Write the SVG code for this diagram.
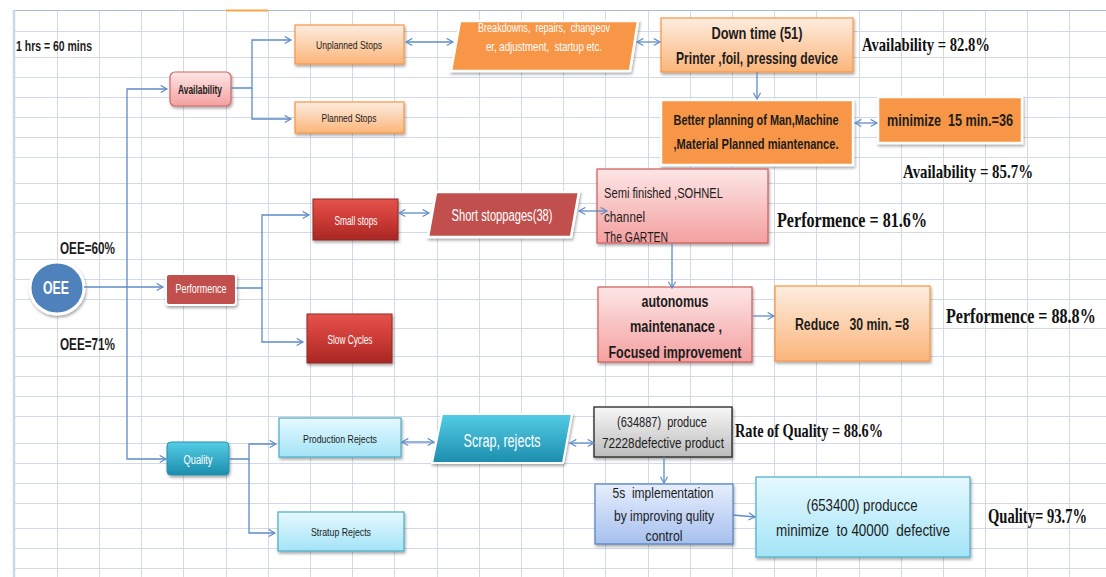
<svg xmlns="http://www.w3.org/2000/svg" width="1106" height="577" viewBox="0 0 1106 577">
<defs>
<style>
.grid{stroke:#d3dae7;stroke-width:1;fill:none}
.con{stroke:#5f8cc8;stroke-width:1.3;fill:none}
.one{marker-end:url(#arr)}
.two{marker-start:url(#arr);marker-end:url(#arr)}
.t{font-family:"Liberation Sans Narrow","Liberation Sans",Arial,sans-serif;fill:#1c1c1c;text-anchor:middle;white-space:pre}
.b{font-weight:bold}
.w{fill:#ffffff}
.l{text-anchor:start}
.s{font-family:"Liberation Serif","Times New Roman",serif;font-weight:bold;fill:#111;text-anchor:start}
.sh{filter:url(#shadow)}
</style>
<marker id="arr" viewBox="0 0 10 10" refX="8" refY="5" markerWidth="9" markerHeight="9" markerUnits="userSpaceOnUse" orient="auto-start-reverse">
<path d="M1,1 L8,5 L1,9" fill="none" stroke="#5f8cc8" stroke-width="1.3"/>
</marker>
<filter id="shadow" x="-20%" y="-20%" width="140%" height="150%">
<feDropShadow dx="1" dy="2" stdDeviation="1.5" flood-color="#000" flood-opacity="0.35"/>
</filter>
<linearGradient id="gOr" x1="0" y1="0" x2="0" y2="1"><stop offset="0" stop-color="#fdede0"/><stop offset="1" stop-color="#fbb57a"/></linearGradient>
<linearGradient id="gPk" x1="0" y1="0" x2="0" y2="1"><stop offset="0" stop-color="#fde6e6"/><stop offset="1" stop-color="#f4a0a0"/></linearGradient>
<linearGradient id="gRd" x1="0" y1="0" x2="0" y2="1"><stop offset="0" stop-color="#e5534d"/><stop offset="0.5" stop-color="#cc3b35"/><stop offset="1" stop-color="#a82723"/></linearGradient>
<linearGradient id="gTl" x1="0" y1="0" x2="0" y2="1"><stop offset="0" stop-color="#55cde6"/><stop offset="1" stop-color="#1b8dac"/></linearGradient>
<linearGradient id="gCy" x1="0" y1="0" x2="0" y2="1"><stop offset="0" stop-color="#e6f9fe"/><stop offset="1" stop-color="#a3e4f7"/></linearGradient>
<linearGradient id="gGy" x1="0" y1="0" x2="0" y2="1"><stop offset="0" stop-color="#f7f7f7"/><stop offset="1" stop-color="#bcbcbc"/></linearGradient>
<linearGradient id="gBl" x1="0" y1="0" x2="0" y2="1"><stop offset="0" stop-color="#e6eefc"/><stop offset="1" stop-color="#a6c0ee"/></linearGradient>
</defs>
<rect x="0" y="0" width="1106" height="577" fill="#ffffff"/>
<g id="grid">
<path class="grid" d="M57.5,11V577M99.5,11V577M141.5,11V577M183.5,11V577M226.5,11V577M268.5,11V577M310.5,11V577M352.5,11V577M394.5,11V577M437.5,11V577M479.5,11V577M521.5,11V577M563.5,11V577M605.5,11V577M648.5,11V577M690.5,11V577M732.5,11V577M774.5,11V577M816.5,11V577M859.5,11V577M901.5,11V577M943.5,11V577M985.5,11V577M1027.5,11V577M1069.5,11V577"/>
<path class="grid" d="M14,31.5H1106M14,57.5H1106M14,77.5H1106M14,97.5H1106M14,117.5H1106M14,137.5H1106M14,157.5H1106M14,183.5H1106M14,203.5H1106M14,232.5H1106M14,259.5H1106M14,279.5H1106M14,299.5H1106M14,328.5H1106M14,356.5H1106M14,376.5H1106M14,396.5H1106M14,416.5H1106M14,443.5H1106M14,463.5H1106M14,483.5H1106M14,503.5H1106M14,528.5H1106M14,548.5H1106M14,568.5H1106"/>
<path d="M14,10.5H1106" stroke="#a8bdd6" stroke-width="1.2"/>
<path d="M14,10V577" stroke="#c9d8ec" stroke-width="2.5"/>
<path d="M226,10.5H268" stroke="#f7a54a" stroke-width="2"/>
</g>
<g id="note"><text class="t b l" x="16" y="51" font-size="15" textLength="76" lengthAdjust="spacingAndGlyphs">1 hrs = 60 mins</text></g>
<g id="oee-labels">
<text class="t b l" x="60" y="254" font-size="17" textLength="55" lengthAdjust="spacingAndGlyphs">OEE=60%</text>
<text class="t b l" x="60" y="350" font-size="17" textLength="55" lengthAdjust="spacingAndGlyphs">OEE=71%</text>
</g>
<g id="n-oee"><ellipse class="sh" cx="57" cy="288" rx="27" ry="26" fill="#4f81bd" stroke="#ffffff" stroke-width="3"/><text class="t b w" x="56" y="294" font-size="18" textLength="26" lengthAdjust="spacingAndGlyphs">OEE</text></g>
<g id="n-availability"><rect class="sh" x="170" y="72" width="61" height="34" rx="5" fill="url(#gPk)" stroke="#cf6764" stroke-width="1.2"/><text class="t b" x="200" y="94" font-size="12" textLength="44" lengthAdjust="spacingAndGlyphs">Availability</text></g>
<g id="n-unplanned"><rect class="sh" x="295" y="25" width="109" height="39" fill="url(#gOr)" stroke="#f79646" stroke-width="1.2"/><text class="t" x="349" y="49" font-size="11.5" textLength="66" lengthAdjust="spacingAndGlyphs">Unplanned Stops</text></g>
<g id="n-planned"><rect class="sh" x="295" y="102" width="109" height="31" fill="url(#gOr)" stroke="#f79646" stroke-width="1.2"/><text class="t" x="349" y="122" font-size="11.5" textLength="55" lengthAdjust="spacingAndGlyphs">Planned Stops</text></g>
<g id="n-breakdowns"><polygon class="sh" points="460,21 638,21 630,71 451,71" fill="#f79646" stroke="#ffffff" stroke-width="2.5"/><text class="t w" x="544" y="32" font-size="12" textLength="132" lengthAdjust="spacingAndGlyphs">Breakdowns,  repairs,  changeov</text><text class="t w" x="544" y="51" font-size="12" textLength="116" lengthAdjust="spacingAndGlyphs">er, adjustment,  startup etc.</text></g>
<g id="n-downtime"><rect class="sh" x="661" y="18" width="192" height="54" fill="url(#gOr)" stroke="#f79646" stroke-width="1.2"/><text class="t b" x="757" y="39" font-size="17" textLength="91" lengthAdjust="spacingAndGlyphs">Down time (51)</text><text class="t b" x="757" y="64" font-size="17" textLength="162" lengthAdjust="spacingAndGlyphs">Printer ,foil, pressing device</text></g>
<g id="n-better"><rect class="sh" x="661" y="100" width="192" height="65" fill="#f79646" stroke="#ffffff" stroke-width="2.5"/><text class="t b" x="756" y="125" font-size="15" textLength="165" lengthAdjust="spacingAndGlyphs">Better planning of Man,Machine</text><text class="t b" x="756" y="149" font-size="15" textLength="165" lengthAdjust="spacingAndGlyphs">,Material Planned miantenance.</text></g>
<g id="n-minimize15"><rect class="sh" x="878" y="97" width="144" height="46" fill="#f79646" stroke="#ffffff" stroke-width="2.5"/><text class="t b" x="950" y="126" font-size="16" textLength="126" lengthAdjust="spacingAndGlyphs">minimize  15 min.=36</text></g>
<g id="avail-labels">
<text class="s" x="862" y="51" font-size="19" textLength="128" lengthAdjust="spacingAndGlyphs">Availability = 82.8%</text>
<text class="s" x="903" y="178" font-size="19" textLength="130" lengthAdjust="spacingAndGlyphs">Availability = 85.7%</text>
</g>
<g id="n-performence"><rect class="sh" x="166" y="274" width="70" height="31" rx="3" fill="#c0504d" stroke="#ffffff" stroke-width="2"/><text class="t w" x="201" y="293" font-size="12" textLength="51" lengthAdjust="spacingAndGlyphs">Performence</text></g>
<g id="n-smallstops"><rect class="sh" x="313" y="199" width="85" height="41" fill="url(#gRd)" stroke="#8e2a27" stroke-width="1"/><text class="t w" x="356" y="225" font-size="12" textLength="43" lengthAdjust="spacingAndGlyphs">Small stops</text></g>
<g id="n-slowcycles"><rect class="sh" x="307" y="314" width="85" height="49" fill="url(#gRd)" stroke="#8e2a27" stroke-width="1"/><text class="t w" x="350" y="344" font-size="12" textLength="45" lengthAdjust="spacingAndGlyphs">Slow Cycles</text></g>
<g id="n-shortstoppages"><polygon class="sh" points="436,192 579,192 571,237 428,237" fill="#c0504d" stroke="#ffffff" stroke-width="2.5"/><text class="t w" x="502" y="221" font-size="16" textLength="101" lengthAdjust="spacingAndGlyphs">Short stoppages(38)</text></g>
<g id="n-semifinished"><rect class="sh" x="597" y="169" width="171" height="74" fill="url(#gPk)" stroke="#cf5a57" stroke-width="1.2"/><text class="t l" x="604" y="198" font-size="15" textLength="119" lengthAdjust="spacingAndGlyphs">Semi finished ,SOHNEL</text><text class="t l" x="604" y="222" font-size="15" textLength="41" lengthAdjust="spacingAndGlyphs">channel</text><text class="t l" x="604" y="242" font-size="15" textLength="64" lengthAdjust="spacingAndGlyphs">The GARTEN</text></g>
<g id="n-autonomus"><rect class="sh" x="598" y="287" width="154" height="75" fill="url(#gPk)" stroke="#cf5a57" stroke-width="1.2"/><text class="t b" x="675" y="307" font-size="16" textLength="67" lengthAdjust="spacingAndGlyphs">autonomus</text><text class="t b" x="676" y="332" font-size="16" textLength="92" lengthAdjust="spacingAndGlyphs">maintenanace ,</text><text class="t b" x="675" y="358" font-size="16" textLength="133" lengthAdjust="spacingAndGlyphs">Focused improvement</text></g>
<g id="n-reduce"><rect class="sh" x="775" y="286" width="155" height="75" fill="url(#gOr)" stroke="#f79646" stroke-width="1.2"/><text class="t b" x="852" y="330" font-size="16" textLength="114" lengthAdjust="spacingAndGlyphs">Reduce   30 min. =8</text></g>
<g id="perf-labels">
<text class="s" x="777" y="227" font-size="21" textLength="150" lengthAdjust="spacingAndGlyphs">Performence = 81.6%</text>
<text class="s" x="0" y="0" font-size="21" transform="translate(946,323) scale(0.766,1)">Performence = 88.8%</text>
</g>
<g id="n-quality"><rect class="sh" x="167" y="442" width="62" height="33" rx="4" fill="url(#gTl)" stroke="#2a8fae" stroke-width="1"/><text class="t w" x="198" y="464" font-size="12.5" textLength="29" lengthAdjust="spacingAndGlyphs">Quality</text></g>
<g id="n-production"><rect class="sh" x="279" y="418" width="122" height="39" fill="url(#gCy)" stroke="#4bacc6" stroke-width="1.2"/><text class="t" x="340" y="443" font-size="11.5" textLength="74" lengthAdjust="spacingAndGlyphs">Production Rejects</text></g>
<g id="n-stratup"><rect class="sh" x="278" y="512" width="126" height="39" fill="url(#gCy)" stroke="#4bacc6" stroke-width="1.2"/><text class="t" x="341" y="536" font-size="11.5" textLength="60" lengthAdjust="spacingAndGlyphs">Stratup Rejects</text></g>
<g id="n-scrap"><polygon class="sh" points="442,414 572,414 563,463 432,463" fill="url(#gTl)" stroke="#ffffff" stroke-width="2"/><text class="t w" x="502" y="447" font-size="18" textLength="77" lengthAdjust="spacingAndGlyphs">Scrap, rejects</text></g>
<g id="n-634887"><rect class="sh" x="594" y="407" width="138" height="50" fill="url(#gGy)" stroke="#222222" stroke-width="1.3"/><text class="t" x="662" y="427" font-size="15" textLength="90" lengthAdjust="spacingAndGlyphs">(634887)  produce</text><text class="t" x="663" y="448" font-size="15" textLength="122" lengthAdjust="spacingAndGlyphs">72228defective product</text></g>
<g id="n-5s"><rect class="sh" x="595" y="484" width="138" height="60" fill="url(#gBl)" stroke="#4f81bd" stroke-width="1.2"/><text class="t" x="663" y="498" font-size="15" textLength="101" lengthAdjust="spacingAndGlyphs">5s  implementation</text><text class="t" x="664" y="521" font-size="15" textLength="100" lengthAdjust="spacingAndGlyphs">by improving qulity</text><text class="t" x="664" y="541" font-size="15" textLength="37" lengthAdjust="spacingAndGlyphs">control</text></g>
<g id="n-653400"><rect class="sh" x="756" y="477" width="214" height="80" fill="url(#gCy)" stroke="#4bacc6" stroke-width="1.2"/><text class="t" x="862" y="511" font-size="16" textLength="111" lengthAdjust="spacingAndGlyphs">(653400) producce</text><text class="t" x="863" y="536" font-size="16" textLength="174" lengthAdjust="spacingAndGlyphs">minimize  to 40000  defective</text></g>
<g id="quality-labels">
<text class="s" x="735" y="437" font-size="19" textLength="148" lengthAdjust="spacingAndGlyphs">Rate of Quality = 88.6%</text>
<text class="s" x="0" y="0" font-size="20" transform="translate(988,523) scale(0.729,1)">Quality= 93.7%</text>
</g>
<g id="connectors">
<path class="con one" d="M127,288 V89 H167"/>
<path class="con one" d="M127,288 V459 H166"/>
<path class="con one" d="M84,287 H163"/>
<path class="con one" d="M231,88 H252 V40 H291"/>
<path class="con one" d="M252,88 V119 H291"/>
<path class="con one" d="M236,288 H262 V215 H309"/>
<path class="con one" d="M262,288 V342 H303"/>
<path class="con one" d="M229,459 H249 V444 H276"/>
<path class="con one" d="M249,459 V533 H275"/>
<path class="con two" d="M406,42 H453"/>
<path class="con two" d="M637,42 H660"/>
<path class="con one" d="M757,72 V99"/>
<path class="con two" d="M855,123 H877"/>
<path class="con two" d="M399,213 H429"/>
<path class="con two" d="M579,211 H607"/>
<path class="con one" d="M672,243 V288"/>
<path class="con one" d="M753,316 H774"/>
<path class="con two" d="M402,442 H434"/>
<path class="con two" d="M570,443 H594"/>
<path class="con one" d="M664,457 V483"/>
<path class="con one" d="M733,515 L755,517"/>
</g>
</svg>
